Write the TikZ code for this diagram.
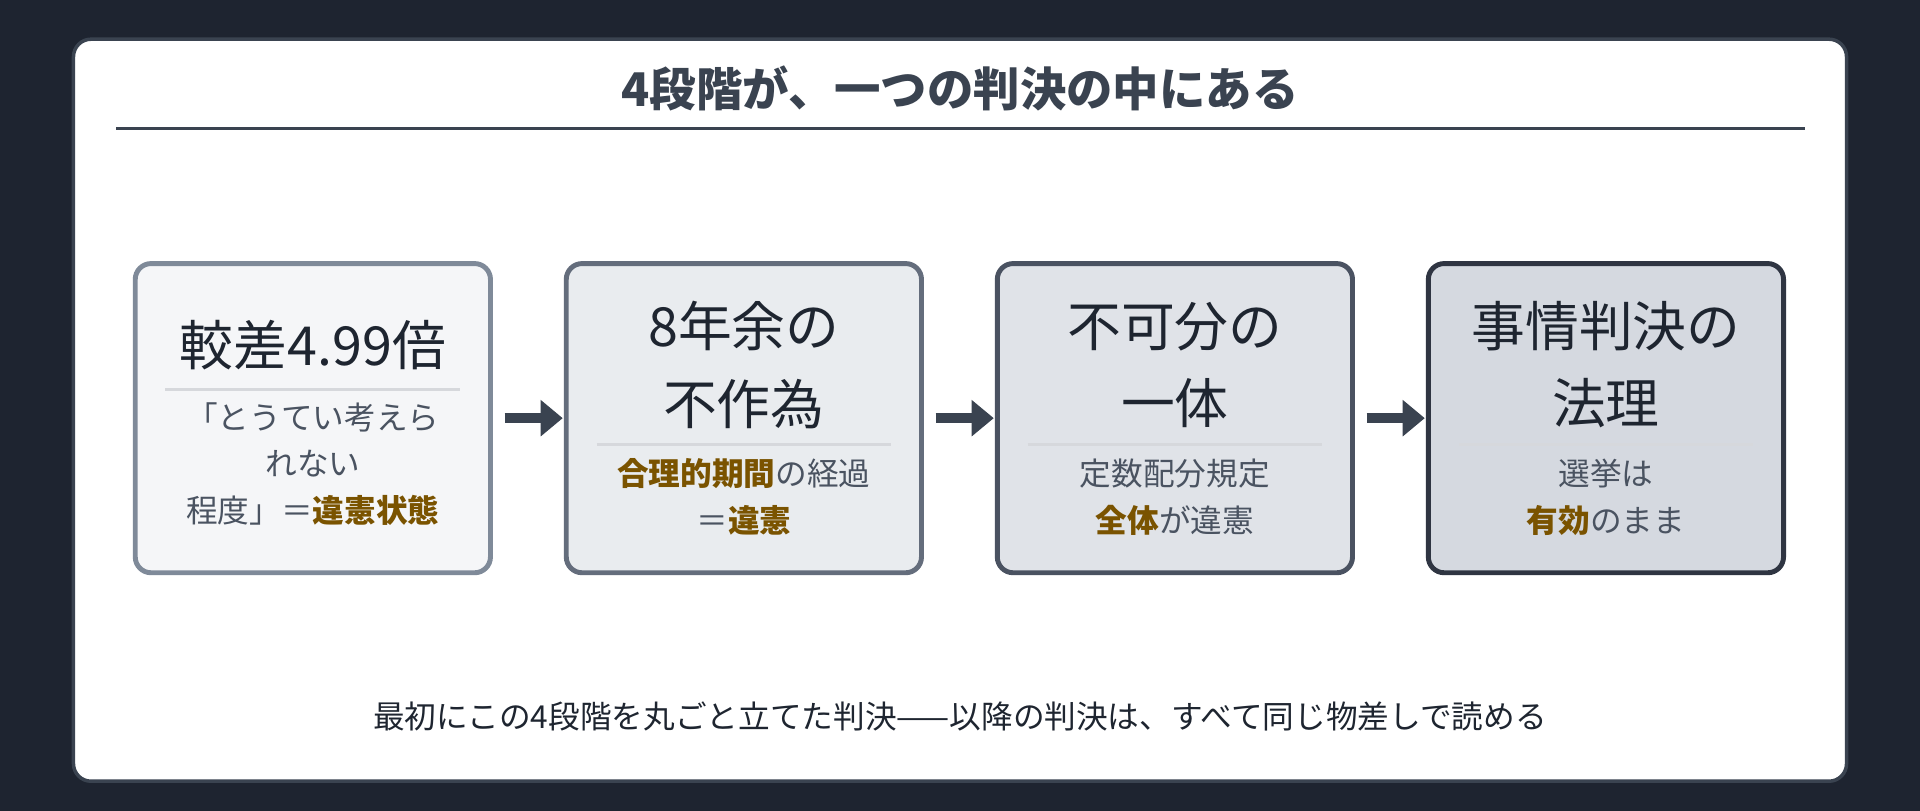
\documentclass[tikz,border=0pt]{standalone}
\usepackage{fontspec}
\setmainfont{Noto Sans CJK JP}
\usetikzlibrary{arrows.meta,positioning}
\definecolor{bgdark}{HTML}{1E2430}
\definecolor{cardedge}{HTML}{3A4350}
\definecolor{inkdark}{HTML}{1E2530}
\definecolor{inksub}{HTML}{4A5361}
\definecolor{hilite}{HTML}{7A5300}
\definecolor{sepgray}{HTML}{D6D8DC}
\definecolor{edgeA}{HTML}{7F8A99}\definecolor{fillA}{HTML}{F5F6F8}
\definecolor{edgeB}{HTML}{646D7C}\definecolor{fillB}{HTML}{E9ECEF}
\definecolor{edgeC}{HTML}{4A5261}\definecolor{fillC}{HTML}{E0E3E8}
\definecolor{edgeD}{HTML}{2F3542}\definecolor{fillD}{HTML}{D5D9E0}
\newcommand{\hl}[1]{\textcolor{hilite}{\bfseries #1}}
\tikzset{
  stage/.style={draw=#1,line width=1.4pt,rounded corners=4.5pt,minimum width=3.55cm,minimum height=3.09cm,inner sep=0pt},
  stagetitle/.style={text=inkdark,font=\fontsize{15.3}{19}\selectfont,align=center,inner sep=0pt},
  stagesub/.style={text=inksub,font=\fontsize{9}{13.3}\selectfont,align=center,inner sep=0pt},
  stagearrow/.style={draw=cardedge,line width=2.8pt,-{Triangle[length=6.3pt,width=10pt]}}
}
\begin{document}
\begin{tikzpicture}[x=0.012245cm,y=-0.012245cm]
\useasboundingbox (0,0) rectangle (1568,662);
\fill[bgdark] (0,0) rectangle (1568,662);
\draw[cardedge,fill=white,line width=1pt,rounded corners=5pt] (60,32) rectangle (1508,638);
\node[text=cardedge,font=\fontsize{13.2}{16}\bfseries] (heading) at (784,72) {4段階が、一つの判決の中にある};
\draw[cardedge,line width=0.7pt] (95,105) -- (1474,105);
% stages
\node[stage=edgeA,fill=fillA] (b1) at (255.5,341.5) {};
\node[stage=edgeB,fill=fillB] (b2) at (607.5,341.5) {};
\node[stage=edgeC,fill=fillC] (b3) at (959.5,341.5) {};
\node[stage=edgeD,fill=fillD] (b4) at (1311.5,341.5) {};
\node[stagetitle] (t1) at (255.5,282) {較差4.99倍};
\node[stagetitle] (t2) at (607.5,298) {8年余の\\[3pt]不作為};
\node[stagetitle] (t3) at (959.5,298) {不可分の\\[3pt]一体};
\node[stagetitle] (t4) at (1311.5,298) {事情判決の\\[3pt]法理};
\draw[sepgray,line width=0.7pt] (135,318) -- (376,318);
\foreach \c in {607.5,959.5,1311.5}
  \draw[sepgray,line width=0.7pt] (\c-120,363) -- (\c+120,363);
\node[stagesub] (s1) at (255.5,379) {「とうてい考えら\\れない\\程度」＝\hl{違憲状態}};
\node[stagesub] (s2) at (607.5,406) {\hl{合理的期間}の経過\\＝\hl{違憲}};
\node[stagesub] (s3) at (959.5,406) {定数配分規定\\\hl{全体}が違憲};
\node[stagesub] (s4) at (1311.5,406) {選挙は\\\hl{有効}のまま};
\draw[stagearrow] ([xshift=3.3pt]b1.east) -- ([xshift=-0.3pt]b2.west);
\draw[stagearrow] ([xshift=3.3pt]b2.east) -- ([xshift=-0.3pt]b3.west);
\draw[stagearrow] ([xshift=3.3pt]b3.east) -- ([xshift=-0.3pt]b4.west);
\node[text=inkdark,font=\fontsize{9}{11}\selectfont] (foot) at (784,585) {最初にこの4段階を丸ごと立てた判決——以降の判決は、すべて同じ物差しで読める};
\end{tikzpicture}
\end{document}
